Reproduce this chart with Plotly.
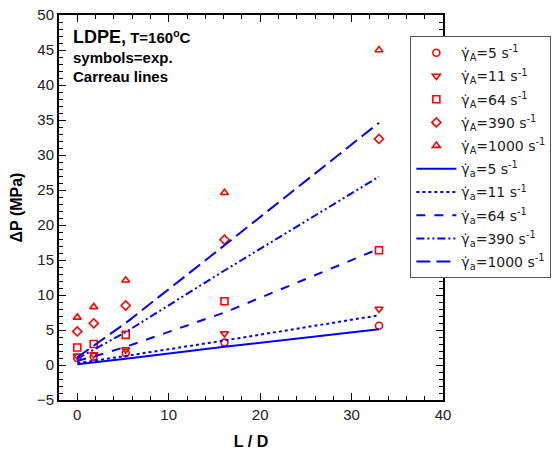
import plotly.graph_objects as go

# Experimental data (symbols)
ld_exp = [0, 1.8, 5.3, 16.1, 33]
exp_5 = [1.0, 1.2, 1.7, 3.2, 5.6]
exp_11 = [1.3, 1.5, 2.2, 4.5, 8.0]
exp_64 = [2.5, 3.0, 4.3, 9.1, 16.4]
exp_390 = [4.8, 5.95, 8.5, 17.9, 32.3]
exp_1000 = [6.8, 8.3, 12.1, 24.6, 45.0]

# Carreau model (lines)
ld_model = [0, 1.8, 5.3, 16.1, 33]
mod_5 = [0.1, 0.35, 0.9, 2.6, 5.1]
mod_11 = [0.3, 0.6, 1.3, 3.5, 7.1]
mod_64 = [0.6, 1.2, 2.6, 7.5, 16.6]
mod_390 = [0.9, 2.2, 4.7, 13.5, 26.9]
mod_1000 = [1.1, 2.8, 6.0, 17.1, 34.6]

rates = ["5", "11", "64", "390", "1000"]
exp_series = [exp_5, exp_11, exp_64, exp_390, exp_1000]
mod_series = [mod_5, mod_11, mod_64, mod_390, mod_1000]
symbols = ["circle-open", "triangle-down-open", "square-open", "diamond-open", "triangle-up-open"]
dashes = ["solid", "dot", "dash", "8px,3px,2px,3px,2px,3px", "14px,6px"]

RED = "#ff0000"
BLUE = "#0000ff"
FONT = "Liberation Sans, Arial, sans-serif"

fig = go.Figure()
for i, (r, ys, sym) in enumerate(zip(rates, exp_series, symbols)):
    fig.add_trace(go.Scatter(
        x=ld_exp, y=ys, mode="markers",
        marker=dict(symbol=sym, size=7, color=RED, line=dict(color=RED, width=1.6)),
        name="γ̇<sub>A</sub>=" + r + " s<sup>-1</sup>",
        legendgroup="e" + str(i),
    ))
for i, (r, ys, d) in enumerate(zip(rates, mod_series, dashes)):
    fig.add_trace(go.Scatter(
        x=ld_model, y=ys, mode="lines",
        line=dict(color=BLUE, width=2, dash=d),
        name="γ̇<sub>a</sub>=" + r + " s<sup>-1</sup>",
        legendgroup="m" + str(i),
    ))

axis_common = dict(
    showline=True, linecolor="black", linewidth=2, mirror="allticks",
    ticks="inside", ticklen=7, tickwidth=1, tickcolor="black",
    showgrid=False, zeroline=False, automargin=False,
    tickfont=dict(family=FONT, size=15, color="#222"),
)

fig.update_xaxes(
    range=[-2, 40], tick0=0, dtick=10,
    minor=dict(ticks="inside", ticklen=4, tick0=0, dtick=2, tickcolor="black", showgrid=False),
    title=dict(text="<b>L / D</b>", font=dict(family=FONT, size=16, color="black"), standoff=14),
    **axis_common,
)
fig.update_yaxes(
    range=[-5, 50], tick0=0, dtick=5,
    minor=dict(ticks="inside", ticklen=4, tick0=0, dtick=1, tickcolor="black", showgrid=False),
    title=dict(text="<b>ΔP (MPa)</b>", font=dict(family=FONT, size=16, color="black"), standoff=10),
    **axis_common,
)

fig.add_annotation(
    xref="paper", yref="paper", x=0.03, y=0.975, xanchor="left", yanchor="top",
    align="left", showarrow=False,
    text=("<b><span style='font-size:18px'>LDPE,</span> T=160<sup>o</sup>C</b><br>"
          "<b>symbols=exp.</b><br><b>Carreau lines</b>"),
    font=dict(family=FONT, size=15, color="black"),
)

fig.update_layout(
    width=555, height=454,
    margin=dict(l=59, r=112, t=15, b=54, autoexpand=False),
    paper_bgcolor="white", plot_bgcolor="white",
    font=dict(family=FONT, size=14, color="black"),
    legend=dict(
        x=0.915, y=0.945, xanchor="left", yanchor="top",
        bgcolor="white", bordercolor="#555", borderwidth=1,
        font=dict(family="DejaVu Sans, " + FONT, size=14, color="#222"),
        tracegroupgap=2, itemwidth=40,
    ),
)

fig.write_html(
    "out.html",
    config={"displayModeBar": False},
    post_script="document.body.style.margin='0';document.body.style.overflow='hidden';",
)
